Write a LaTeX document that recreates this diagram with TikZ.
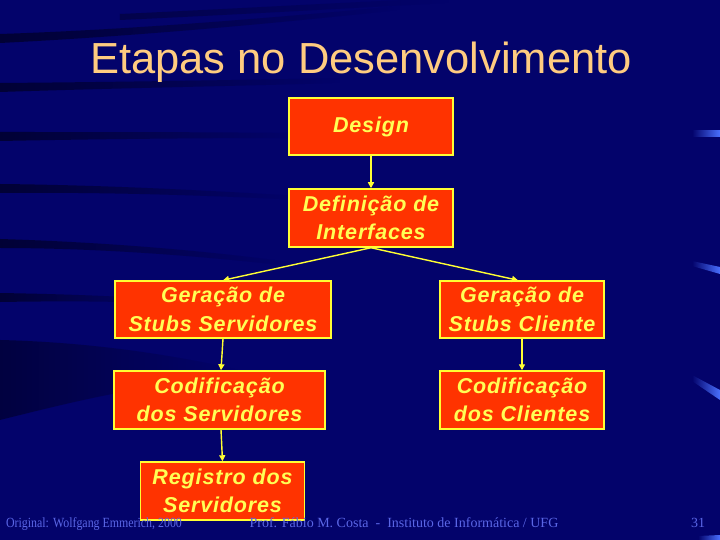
\documentclass[tikz,border=0pt]{standalone}
\usepackage{fontspec}
\setmainfont{Liberation Sans}
\newfontfamily\footfont[FakeStretch=0.85]{Liberation Serif}
\newfontfamily\footfontb{Liberation Serif}
\newfontfamily\boxfont[LetterSpace=4]{Liberation Sans}
\usetikzlibrary{fadings,arrows.meta}
\definecolor{bg}{HTML}{03036B}
\definecolor{boxfill}{HTML}{FF3300}
\definecolor{boxline}{HTML}{FFFF33}
\definecolor{boxtext}{HTML}{FFFF55}
\definecolor{titlecol}{HTML}{FFCC80}
\definecolor{footcol}{HTML}{5A66E6}
\definecolor{streak}{HTML}{4A70FF}
\tikzset{
  stage/.style={draw=boxline, line width=1.5pt, fill=boxfill, text=boxtext,
    align=center, inner sep=0pt, minimum height=57pt,
    font=\boxfont\bfseries\itshape\fontsize{21.5}{28.5}\selectfont},
  flow/.style={draw=boxline, line width=1.4pt, -{Triangle[length=6pt,width=6pt]}, fill=boxline},
  band/.style={fill=black, opacity=0.5, path fading=east},
  foot/.style={text=footcol, font=\footfont\fontsize{14}{14}\selectfont, anchor=base, inner sep=0pt},
  footb/.style={text=footcol, font=\footfontb\fontsize{14}{14}\selectfont, anchor=base, inner sep=0pt},
  glint/.style={fill=streak, path fading=west}
}
\begin{document}
\begin{tikzpicture}[x=1pt,y=-1pt]
\fill[bg] (0,0) rectangle (720,540);
\useasboundingbox (0,0) rectangle (720,540);
% background bands
\fill[band] (0,34) .. controls (120,30) and (250,20) .. (400,6) -- (400,10) .. controls (250,26) and (120,37) .. (0,43) -- cycle;
\fill[band, opacity=0.3] (120,14) .. controls (250,8) and (350,2) .. (450,-2) -- (450,3) .. controls (350,8) and (250,14) .. (120,20) -- cycle;
\fill[band] (0,83) .. controls (120,82) and (240,80) .. (340,78) -- (340,83) .. controls (240,86) and (120,88) .. (0,92) -- cycle;
\fill[band] (0,132) .. controls (100,132) and (200,132) .. (300,133) -- (300,138) .. controls (200,138) and (100,139) .. (0,141) -- cycle;
\fill[band] (0,184) .. controls (100,185) and (200,190) .. (300,196) -- (300,200) .. controls (200,195) and (100,192) .. (0,193) -- cycle;
\fill[band] (0,239) .. controls (100,242) and (200,250) .. (290,262) -- (290,266) .. controls (200,256) and (100,248) .. (0,248) -- cycle;
\fill[band] (0,293) .. controls (60,294) and (120,296) .. (170,300) -- (170,304) .. controls (120,301) and (60,301) .. (0,302) -- cycle;
\fill[band, opacity=0.4] (0,340) .. controls (80,342) and (160,352) .. (240,370) -- (240,380) .. controls (160,380) and (80,400) .. (0,420) -- cycle;
% right edge glints
\fill[glint] (692,130) -- (720,130) -- (720,137) -- (692,137) -- cycle;
\fill[glint] (692,261) -- (720,267) -- (720,274) -- (692,266) -- cycle;
\fill[glint] (692,375) -- (720,390) -- (720,400) -- (692,381) -- cycle;
\fill[glint] (698,536) -- (720,535) -- (720,540) -- (698,540) -- cycle;
% title
\node[text=titlecol, font=\fontsize{43.5}{43.5}\selectfont, anchor=base, inner sep=0pt] (title) at (361,74) {Etapas no Desenvolvimento};
% stages
\node[stage, minimum width=164pt] (design) at (371,126.5) {Design};
\node[stage, minimum width=164pt, minimum height=58pt] (def) at (371,218) {Definição de\\Interfaces};
\node[stage, minimum width=216pt] (gs) at (223,309.5) {Geração de\\Stubs Servidores};
\node[stage, minimum width=164pt] (gc) at (522,309.5) {Geração de\\Stubs Cliente};
\node[stage, minimum width=211pt, minimum height=58pt] (cs) at (219.5,400) {Codificação\\dos Servidores};
\node[stage, minimum width=164pt, minimum height=58pt] (cc) at (522,400) {Codificação\\dos Clientes};
\node[stage, minimum width=164pt, minimum height=58pt] (reg) at (222.5,491) {Registro dos\\Servidores};
% connectors
\draw[flow] (design) -- (def);
\draw[flow] (def.south) -- (gs.north);
\draw[flow] (def.south) -- ([xshift=-4pt]gc.north);
\draw[flow] (gs.south) -- ([xshift=1.5pt]cs.north);
\draw[flow] (gc) -- (cc);
\draw[flow] ([xshift=1.5pt]cs.south) -- (reg.north);
% footer
\node[foot] (f1) at (94,527) {Original: Wolfgang Emmerich, 2000};
\node[footb] (f2) at (404,527) {Prof. Fábio M. Costa\ \ -\ \ Instituto de Informática / UFG};
\node[footb] (f3) at (698,527) {31};
\end{tikzpicture}
\end{document}
